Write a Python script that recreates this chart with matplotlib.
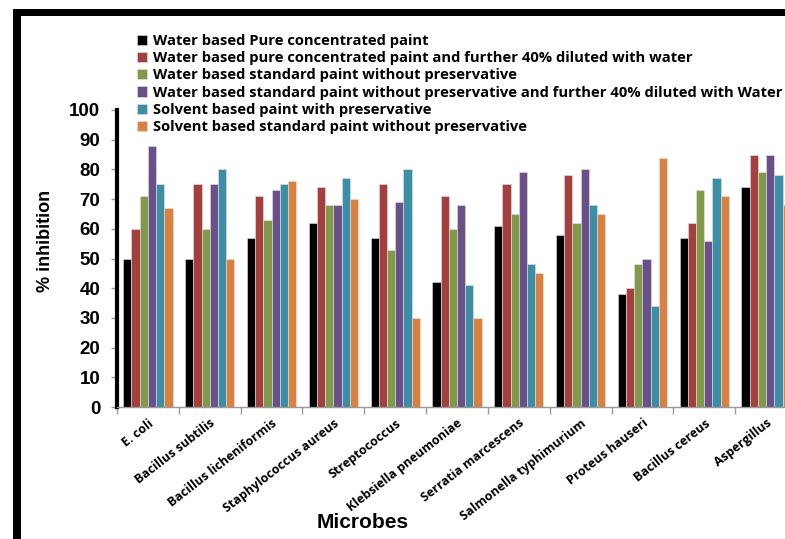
import matplotlib
matplotlib.use('Agg')
import matplotlib.pyplot as plt
import numpy as np
from matplotlib.patches import Rectangle

microbes = ['E. coli', 'Bacillus subtilis', 'Bacillus licheniformis',
            'Staphylococcus aureus', 'Streptococcus', 'Klebsiella pneumoniae',
            'Serratia marcescens', 'Salmonella typhimurium', 'Proteus hauseri',
            'Bacillus cereus', 'Aspergillus']

series_names = [
    'Water based Pure concentrated paint',
    'Water based pure concentrated paint and further 40% diluted with water',
    'Water based standard paint without preservative',
    'Water based standard paint without preservative and further 40% diluted with Water',
    'Solvent based paint with preservative',
    'Solvent based standard paint without preservative',
]

water_pure = [50, 50, 57, 62, 57, 42, 61, 58, 38, 57, 74]
water_pure_diluted = [60, 75, 71, 74, 75, 71, 75, 78, 40, 62, 85]
water_std = [71, 60, 63, 68, 53, 60, 65, 62, 48, 73, 79]
water_std_diluted = [88, 75, 73, 68, 69, 68, 79, 80, 50, 56, 85]
solvent_pres = [75, 80, 75, 77, 80, 41, 48, 68, 34, 77, 78]
solvent_std = [67, 50, 76, 70, 30, 30, 45, 65, 84, 71, 68]

colors = ['#000000', '#A33F3C', '#7F9A48', '#6A5088', '#3C8EA5', '#D9823F']

data = [water_pure, water_pure_diluted, water_std, water_std_diluted,
        solvent_pres, solvent_std]

fig = plt.figure(figsize=(7.85, 5.39), dpi=100)
# axes runs past the right edge: the original picture is cropped there
ax = fig.add_axes([117 / 785, 132 / 539, 680 / 785, 297 / 539])

x = np.arange(len(microbes))
w = 0.133
for i, (vals, c, name) in enumerate(zip(data, colors, series_names)):
    ax.bar(x + (i - 2.5) * w, vals, width=w, color=c, label=name,
           edgecolor='#e8e0ee', linewidth=0.4)

ax.set_xlim(-0.5, len(microbes) - 0.5)
ax.set_ylim(0, 100)
ax.set_yticks(np.arange(0, 101, 10))
ax.set_yticklabels([str(v) for v in range(0, 101, 10)],
                   fontsize=13.5, fontweight='bold', family='Liberation Sans')

ax.set_xticks(x)
ax.set_xticklabels(microbes, rotation=38, ha='right', rotation_mode='anchor',
                   fontsize=9, fontweight='bold', family='Open Sans')
ax.set_xticks(np.arange(-0.5, len(microbes), 1), minor=True)
ax.tick_params(axis='x', which='major', length=0, pad=7)
ax.tick_params(axis='x', which='minor', length=5, color='#999999', width=1)
ax.tick_params(axis='y', length=4, color='#999999', width=1, pad=8)

for s in ['top', 'right']:
    ax.spines[s].set_visible(False)
ax.spines['left'].set_linewidth(3)
ax.spines['left'].set_color('black')
ax.spines['bottom'].set_color('#999999')
ax.spines['bottom'].set_linewidth(1)

fig.text(45 / 785, 1 - 241 / 539, '% inhibition', rotation=90, ha='center',
         va='center', fontsize=13, fontweight='bold', family='Liberation Sans')
fig.text(363 / 785, 1 - 523 / 539, 'Microbes', ha='center', va='center',
         fontsize=15, fontweight='bold', family='Liberation Sans')

fig.legend(loc='upper left', bbox_to_anchor=(137 / 785, 1 - 34 / 539),
           frameon=False, prop={'family': 'Open Sans', 'weight': 'bold', 'size': 10.6},
           handlelength=0.7, handleheight=0.7, handletextpad=0.4,
           labelspacing=0.22, borderpad=0, borderaxespad=0)

# black frame on top and left of the picture
fig.add_artist(Rectangle((13 / 785, 1 - 16 / 539), 1, 7 / 539,
                         transform=fig.transFigure, color='black', lw=0))
fig.add_artist(Rectangle((13 / 785, 0), 8 / 785, 1 - 9 / 539,
                         transform=fig.transFigure, color='black', lw=0))

fig.savefig('out.png', dpi=100)
